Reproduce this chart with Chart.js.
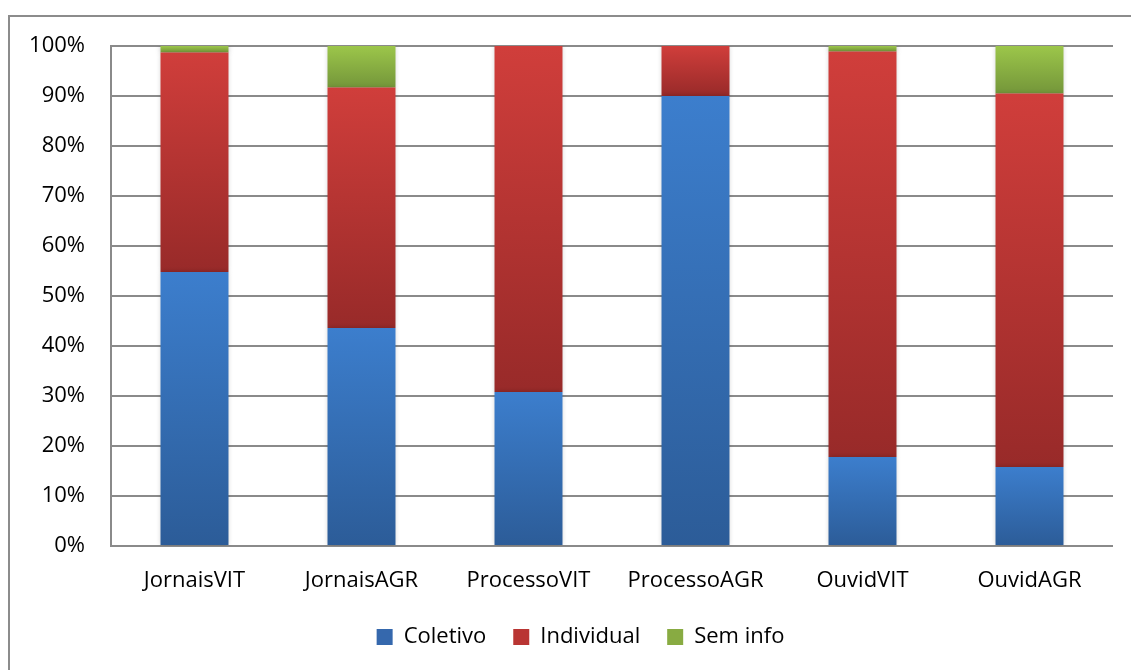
<!DOCTYPE html>
<html>
<head>
<meta charset="utf-8">
<script src="https://cdn.jsdelivr.net/npm/chart.js@4"></script>
<style>
  body { margin: 0; background: #fff; }
  #wrap { position: relative; width: 1131px; height: 670px; overflow: hidden; }
  #frame { position: absolute; left: 8px; top: 15px; width: 1200px; height: 700px; border: 2px solid #8c8c8c; box-sizing: border-box; }
  canvas { position: absolute; left: 0; top: 0; }
</style>
</head>
<body>
<div id="wrap">
  <div id="frame"></div>
  <canvas id="chart" width="1131" height="670"></canvas>
</div>
<script>
const categories = ["JornaisVIT", "JornaisAGR", "ProcessoVIT", "ProcessoAGR", "OuvidVIT", "OuvidAGR"];
const coletivo = [54.8, 43.6, 30.8, 90.0, 17.8, 15.8];
const individual = [43.9, 48.1, 69.2, 10.0, 81.1, 74.7];
const semInfo = [1.3, 8.3, 0, 0, 1.1, 9.5];
const yTicks = [0, 10, 20, 30, 40, 50, 60, 70, 80, 90, 100];

const seriesData = [coletivo, individual, semInfo];
// top / bottom colours of each gradient
const shades = [
  ["#3c7ecd", "#2c5c98"],
  ["#d03e3b", "#982a29"],
  ["#9cc64a", "#74963a"]
];
const legendColors = ["#3568ad", "#b93533", "#88ab42"];

function segmentFill(ctx) {
  const chart = ctx.chart;
  const y = chart.scales.y;
  if (!y || ctx.type !== 'data') return shades[ctx.datasetIndex][0];
  let bottom = 0;
  for (let k = 0; k < ctx.datasetIndex; k++) bottom += seriesData[k][ctx.dataIndex];
  const top = bottom + seriesData[ctx.datasetIndex][ctx.dataIndex];
  const y0 = y.getPixelForValue(top);
  const y1 = y.getPixelForValue(bottom);
  if (!isFinite(y0) || !isFinite(y1) || y0 === y1) return shades[ctx.datasetIndex][0];
  const g = chart.ctx.createLinearGradient(0, y0, 0, y1);
  g.addColorStop(0, shades[ctx.datasetIndex][0]);
  g.addColorStop(1, shades[ctx.datasetIndex][1]);
  return g;
}

const barShadow = {
  id: 'barShadow',
  beforeDatasetsDraw(chart) {
    const c = chart.ctx;
    c.save();
    c.shadowColor = 'rgba(0,0,0,0.25)';
    c.shadowBlur = 5;
    c.shadowOffsetX = 0;
    c.shadowOffsetY = 0;
  },
  afterDatasetsDraw(chart) {
    chart.ctx.restore();
  }
};

// the original frame is wider than the visible crop, so its legend sits a bit right of centre
const legendNudge = {
  id: 'legendNudge',
  afterLayout(chart) {
    if (chart.legend) {
      chart.legend.left += 24;
      chart.legend.right += 24;
    }
  }
};

const font = { family: "'Open Sans', sans-serif", size: 22 };

new Chart(document.getElementById('chart'), {
  type: 'bar',
  data: {
    labels: categories,
    datasets: [
      { label: 'Coletivo', data: coletivo },
      { label: 'Individual', data: individual },
      { label: 'Sem info', data: semInfo }
    ].map(d => Object.assign(d, {
      backgroundColor: segmentFill,
      borderWidth: 0,
      barPercentage: 0.407,
      categoryPercentage: 1
    }))
  },
  options: {
    responsive: false,
    animation: false,
    layout: { padding: { left: 0, top: 46, right: 18, bottom: 12 } },
    scales: {
      x: {
        stacked: true,
        grid: { display: false, drawTicks: false },
        border: { display: false },
        ticks: { color: '#000', font: font, padding: 22 },
        afterFit(scale) { scale.height = 53; }
      },
      y: {
        stacked: true,
        min: 0,
        max: 100,
        afterBuildTicks(scale) { scale.ticks = yTicks.map(v => ({ value: v })); },
        grid: { color: '#8a8a8a', lineWidth: 2, drawTicks: false },
        border: { display: true, color: '#8a8a8a', width: 2 },
        ticks: { color: '#000', font: font, padding: 26, callback: v => v + '%' },
        afterFit(scale) { scale.width = 111; }
      }
    },
    plugins: {
      legend: {
        position: 'bottom',
        labels: {
          color: '#000',
          font: font,
          boxWidth: 16,
          boxHeight: 16,
          padding: 27,
          generateLabels(chart) {
            return chart.data.datasets.map((d, i) => ({
              text: d.label,
              fillStyle: legendColors[i],
              strokeStyle: legendColors[i],
              lineWidth: 0,
              datasetIndex: i,
              hidden: false
            }));
          }
        }
      },
      tooltip: { enabled: false }
    }
  },
  plugins: [barShadow, legendNudge]
});
</script>
</body>
</html>
